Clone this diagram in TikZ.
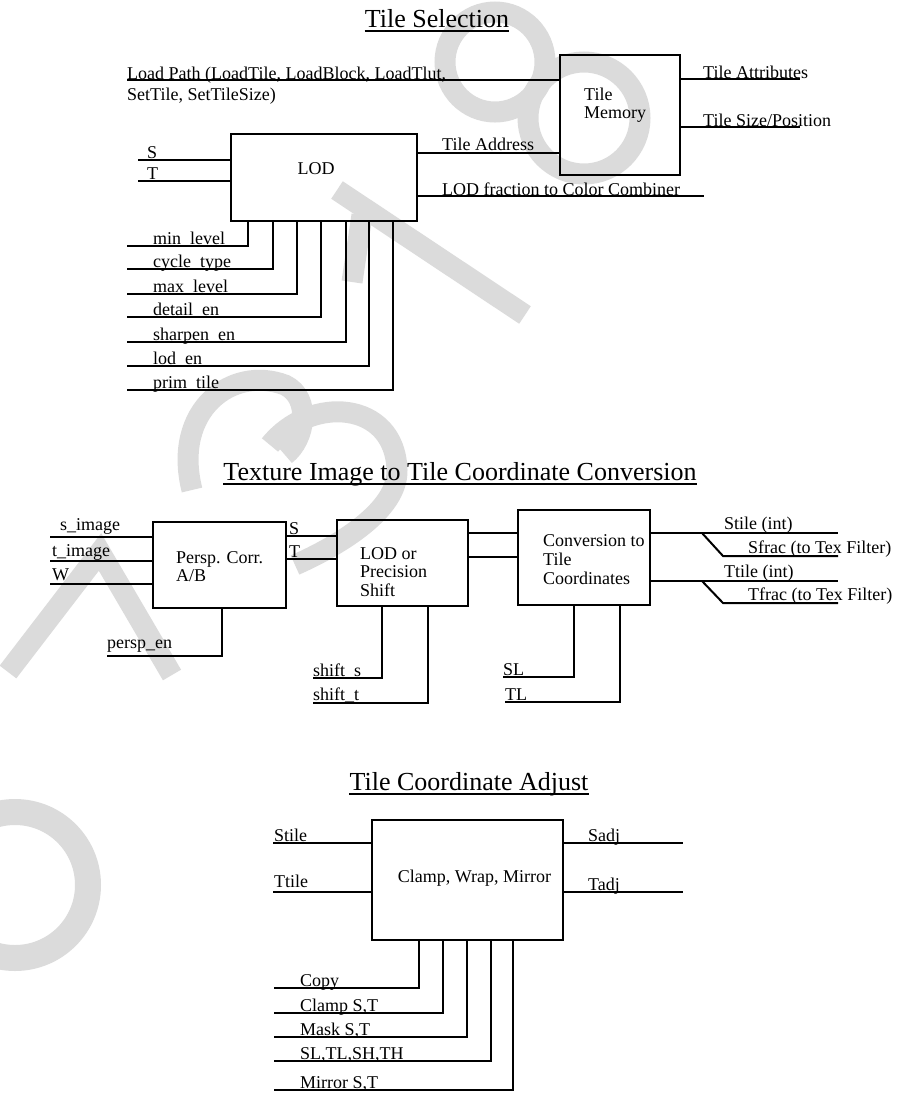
\documentclass[tikz,border=0pt]{standalone}
\usepackage{fontspec}
\setmainfont{Liberation Serif}
\begin{document}
\begin{tikzpicture}[x=1pt,y=-1pt,
  ln/.style={line width=2pt},
  box/.style={draw,line width=2pt,inner sep=0pt},
  lbl/.style={anchor=base west,inner sep=0pt,font=\fontsize{18}{18}\selectfont},
  ctr/.style={anchor=base,inner sep=0pt,font=\fontsize{18}{18}\selectfont},
  ttl/.style={anchor=base,inner sep=0pt,font=\fontsize{26}{26}\selectfont},
  uline/.style={line width=1.3pt},
  wm/.style={draw=black!14,line width=21pt}]
\useasboundingbox (0,0) rectangle (908,1093);

% ---------- watermark (scan background) ----------
\draw[wm] (495,62) circle[radius=50pt];
\draw[wm] (584,118) circle[radius=56pt];
\draw[wm] (337,190) -- (525,315);
\draw[wm] (362,215) -- (352,282);
\draw[wm] (192,490) .. controls (172,410) and (232,365) .. (285,385) .. controls (312,398) and (305,440) .. (285,455);
\draw[wm] (270,445) .. controls (310,395) and (395,400) .. (397,470) .. controls (398,510) and (340,545) .. (295,565);
\draw[wm,line join=miter] (8,672) -- (100,552) -- (172,675);
\draw[wm,line width=26pt] (15,885) circle[radius=73pt];

% ---------- Tile Selection ----------
\node[ttl] (t1) at (437,27) {Tile Selection};
\draw[uline] ([yshift=-4pt]t1.base west) -- ([yshift=-4pt]t1.base east);

\node[box,minimum width=120pt,minimum height=120pt] (mem) at (620,115) {};
\node[box,minimum width=186pt,minimum height=87pt] (lod) at (324,177.5) {};
\node[lbl] (mem1) at (584,100) {Tile};
\node[lbl] (mem2) at (584,118) {Memory};
\node[ctr] (lodt) at (316,174) {LOD};

\coordinate (lp) at (127,80);
\draw[ln] (lp) -- (lp -| mem.west);
\node[lbl] (lpt1) at (127,79) {Load Path (LoadTile, LoadBlock, LoadTlut,};
\node[lbl] (lpt2) at (127,100) {SetTile, SetTileSize)};

\coordinate (ta) at (800,79);
\draw[ln] (ta -| mem.east) -- (ta);
\node[lbl] (tat) at (703,78) {Tile Attributes};
\coordinate (ts) at (800,127);
\draw[ln] (ts -| mem.east) -- (ts);
\node[lbl] (tst) at (703,126) {Tile Size/Position};

\coordinate (tad) at (0,153);
\draw[ln] (tad -| lod.east) -- (tad -| mem.west);
\node[lbl] (tadt) at (442,150) {Tile Address};
\coordinate (lf) at (704,196);
\draw[ln] (lf -| lod.east) -- (lf);
\node[lbl] (lft) at (442,195) {LOD fraction to Color Combiner};

\coordinate (sin) at (138,160);
\draw[ln] (sin) -- (sin -| lod.west);
\node[lbl] (sint) at (147,158) {S};
\coordinate (tin) at (138,181);
\draw[ln] (tin) -- (tin -| lod.west);
\node[lbl] (tint) at (147,179) {T};

\foreach \x/\y/\t [count=\i] in {248/246/min\_level,273/269/cycle\_type,297/294/max\_level,321/317/detail\_en,346/342/sharpen\_en,369/366/lod\_en,393/390/prim\_tile}{
  \coordinate (lc\i) at (127,\y);
  \coordinate (lv\i) at (\x,0);
  \draw[ln] (lc\i) -| (lod.south -| lv\i);
  \node[lbl] (lct\i) at (153,\y-2) {\t};
}

% ---------- Texture Image to Tile Coordinate Conversion ----------
\node[ttl] (t2) at (460,480) {Texture Image to Tile Coordinate Conversion};
\draw[uline] ([yshift=-4pt]t2.base west) -- ([yshift=-4pt]t2.base east);

\node[box,minimum width=133pt,minimum height=86pt] (persp) at (219.5,565) {};
\node[box,minimum width=131pt,minimum height=86pt] (prec) at (402.5,563) {};
\node[box,minimum width=132pt,minimum height=95pt] (conv) at (584,557.5) {};

\node[lbl] (pc1) at (176,563) {Persp. Corr.};
\node[lbl] (pc2) at (176,581) {A/B};
\node[lbl] (pr1) at (360,559) {LOD or};
\node[lbl] (pr2) at (360,577) {Precision};
\node[lbl] (pr3) at (360,596) {Shift};
\node[lbl] (cv1) at (543,546) {Conversion to};
\node[lbl] (cv2) at (543,565) {Tile};
\node[lbl] (cv3) at (543,584) {Coordinates};

\coordinate (si) at (50,537);
\draw[ln] (si) -- (si -| persp.west);
\node[lbl] (sit) at (60,530) {s\_image};
\coordinate (ti) at (50,561);
\draw[ln] (ti) -- (ti -| persp.west);
\node[lbl] (tit) at (52,556) {t\_image};
\coordinate (wi) at (50,584);
\draw[ln] (wi) -- (wi -| persp.west);
\node[lbl] (wit) at (52,580) {W};

\coordinate (pe) at (107,656);
\coordinate (pev) at (222,0);
\draw[ln] (pe) -| (persp.south -| pev);
\node[lbl] (pet) at (107,648) {persp\_en};

\coordinate (sm) at (0,536);
\draw[ln] (sm -| persp.east) -- (sm -| prec.west);
\node[lbl] (smt) at (289,534) {S};
\coordinate (tm) at (0,559);
\draw[ln] (tm -| persp.east) -- (tm -| prec.west);
\node[lbl] (tmt) at (289,557) {T};

\coordinate (s2) at (0,533);
\draw[ln] (s2 -| prec.east) -- (s2 -| conv.west);
\coordinate (t2c) at (0,557);
\draw[ln] (t2c -| prec.east) -- (t2c -| conv.west);

\coordinate (shs) at (313,678);
\coordinate (shsv) at (382,0);
\draw[ln] (shs) -| (prec.south -| shsv);
\node[lbl] (shst) at (313,676) {shift\_s};
\coordinate (sht) at (313,703);
\coordinate (shtv) at (428,0);
\draw[ln] (sht) -| (prec.south -| shtv);
\node[lbl] (shtt) at (313,700) {shift\_t};

\coordinate (sl) at (503,677);
\coordinate (slv) at (574,0);
\draw[ln] (sl) -| (conv.south -| slv);
\node[lbl] (slt) at (503,675) {SL};
\coordinate (tl) at (505,702);
\coordinate (tlv) at (620,0);
\draw[ln] (tl) -| (conv.south -| tlv);
\node[lbl] (tlt) at (505,700) {TL};

\coordinate (so) at (838,533);
\draw[ln] (so -| conv.east) -- (so);
\coordinate (sfa) at (702,533);
\coordinate (sfb) at (723,556);
\coordinate (sfc) at (838,556);
\draw[ln] (sfa) -- (sfb) -- (sfc);
\node[lbl] (sot) at (724,529) {Stile (int)};
\node[lbl] (sft) at (748,553) {Sfrac (to Tex Filter)};

\coordinate (to) at (838,581);
\draw[ln] (to -| conv.east) -- (to);
\coordinate (tfa) at (702,581);
\coordinate (tfb) at (723,603);
\coordinate (tfc) at (838,603);
\draw[ln] (tfa) -- (tfb) -- (tfc);
\node[lbl] (tot) at (724,577) {Ttile (int)};
\node[lbl] (tft) at (748,600) {Tfrac (to Tex Filter)};

% ---------- Tile Coordinate Adjust ----------
\node[ttl] (t3) at (469,790) {Tile Coordinate Adjust};
\draw[uline] ([yshift=-4pt]t3.base west) -- ([yshift=-4pt]t3.base east);

\node[box,minimum width=191pt,minimum height=120pt] (cl) at (467.5,880) {};
\node[ctr] (clt) at (474.5,882) {Clamp, Wrap, Mirror};

\coordinate (sti) at (273,843);
\draw[ln] (sti) -- (sti -| cl.west);
\node[lbl] (stit) at (274,841) {Stile};
\coordinate (tti) at (273,892);
\draw[ln] (tti) -- (tti -| cl.west);
\node[lbl] (ttit) at (274,887) {Ttile};
\coordinate (sa) at (683,843);
\draw[ln] (sa -| cl.east) -- (sa);
\node[lbl] (sat) at (588,841) {Sadj};
\coordinate (tao) at (683,892);
\draw[ln] (tao -| cl.east) -- (tao);
\node[lbl] (taot) at (588,890) {Tadj};

\foreach \x/\y/\t [count=\i] in {419/988/Copy,443/1013/{Clamp S,T},467/1037/{Mask S,T},491/1061/{SL,TL,SH,TH},513/1090/{Mirror S,T}}{
  \coordinate (bc\i) at (274,\y);
  \coordinate (bv\i) at (\x,0);
  \draw[ln] (bc\i) -| (cl.south -| bv\i);
  \node[lbl] (bct\i) at (300,\y-2) {\t};
}
\end{tikzpicture}
\end{document}
